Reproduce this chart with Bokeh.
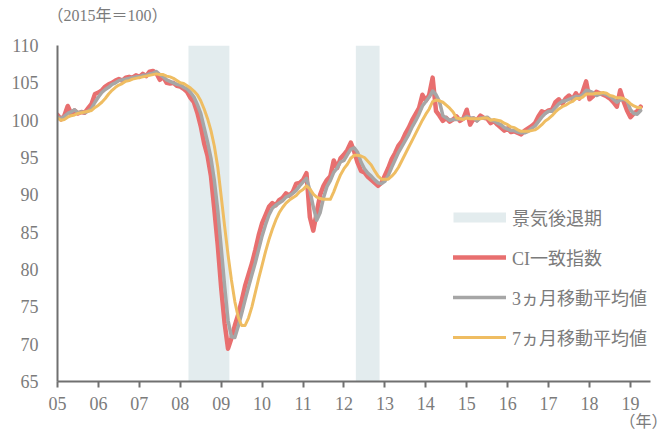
from bokeh.plotting import figure
from bokeh.models import Range1d, FixedTicker, Legend, LegendItem, Title, ColumnDataSource
from bokeh.embed import file_html
from bokeh.resources import INLINE

# ---- data (monthly, Jan 2005 - Apr 2019, 2015 = 100) ----
start_year = 2005
ci = [
    100.7, 100.1, 100.6, 101.9, 100.9, 101.3, 100.9, 101.1, 101.0, 101.6, 102.2, 103.5,
    103.7, 104.0, 104.5, 104.8, 105.0, 105.3, 105.5, 105.3, 105.7, 105.8, 105.7, 106.0,
    105.8, 106.2, 105.9, 106.5, 106.6, 106.3, 105.4, 105.8, 105.0, 104.9, 105.0, 104.6,
    104.5, 104.2, 103.8, 103.0, 102.4, 101.0, 99.2, 96.9, 95.2, 92.5, 88.0, 83.2,
    77.5, 72.8, 69.4, 70.8, 72.5, 74.0, 75.8, 77.8, 79.3, 80.8, 82.6, 84.6,
    86.2, 87.3, 88.4, 88.9, 88.6, 89.3, 89.6, 90.2, 89.9, 90.4, 91.5, 91.6,
    92.0, 92.9, 87.0, 85.2, 87.6, 90.0, 91.2, 92.0, 92.5, 94.6, 93.6, 94.9,
    95.4, 96.0, 97.0, 95.8, 94.3, 93.2, 93.0, 92.4, 92.0, 91.6, 91.2, 91.6,
    92.6, 93.6, 94.8, 95.6, 96.6, 97.2, 98.2, 99.0, 100.0, 100.8, 101.6, 103.4,
    102.6, 103.4, 105.7, 101.2, 100.6, 99.9, 100.3, 99.8, 100.1, 100.5, 99.9, 100.2,
    101.4, 99.4, 100.2, 100.0, 100.6, 100.3, 100.2, 99.6, 99.9, 99.4, 99.0, 98.6,
    98.9, 98.4, 98.5, 98.3, 98.1, 98.6, 98.9, 99.2, 99.6, 100.5, 101.2, 101.0,
    101.3, 101.4, 102.4, 102.8, 102.2, 102.9, 103.3, 102.8, 103.6, 102.9, 103.8, 105.2,
    102.8, 103.2, 103.8, 103.6, 103.4, 103.2, 102.9, 102.4, 101.8, 104.0, 102.5, 101.3,
    100.4, 100.9, 101.2, 101.8,
]
ma3 = [
    100.4, 100.2, 100.5, 100.9, 101.1, 101.4, 101.0, 101.1, 101.0, 101.2, 101.6, 102.4,
    103.1, 103.7, 104.1, 104.4, 104.8, 105.0, 105.3, 105.4, 105.5, 105.6, 105.7, 105.8,
    105.8, 106.0, 106.0, 106.2, 106.3, 106.5, 106.1, 105.8, 105.4, 105.2, 105.0, 104.8,
    104.7, 104.4, 104.2, 103.7, 103.1, 102.1, 100.9, 99.0, 97.1, 94.9, 91.9, 87.9,
    82.9, 77.8, 73.2, 71.0, 70.9, 72.4, 74.1, 75.9, 77.6, 79.3, 80.9, 82.7,
    84.5, 86.0, 87.3, 88.2, 88.6, 88.9, 89.2, 89.7, 89.9, 90.2, 90.6, 91.2,
    91.7, 92.2, 90.6, 88.4, 86.6, 87.6, 89.6, 91.1, 91.9, 93.0, 93.6, 94.4,
    94.6, 95.4, 96.1, 96.3, 95.7, 94.4, 93.5, 92.9, 92.5, 92.0, 91.6, 91.5,
    91.8, 92.6, 93.7, 94.7, 95.7, 96.5, 97.3, 98.1, 99.1, 99.9, 100.8, 101.9,
    102.5, 103.1, 103.9, 103.4, 102.5, 100.6, 100.3, 100.0, 100.1, 100.1, 100.2, 100.2,
    100.5, 100.3, 100.3, 99.9, 100.3, 100.3, 100.4, 100.0, 99.9, 99.6, 99.4, 99.0,
    98.8, 98.6, 98.6, 98.4, 98.3, 98.3, 98.5, 98.9, 99.2, 99.8, 100.4, 100.9,
    101.2, 101.2, 101.7, 102.2, 102.5, 102.6, 102.8, 103.0, 103.2, 103.1, 103.4, 104.0,
    103.9, 103.7, 103.3, 103.5, 103.6, 103.4, 103.2, 102.8, 102.4, 102.7, 102.8, 102.6,
    101.4, 100.9, 100.8, 101.3,
]
ma7 = [
    100.3, 100.0, 100.1, 100.4, 100.6, 100.7, 100.9, 101.0, 101.1, 101.2, 101.3, 101.7,
    102.0, 102.4, 102.9, 103.5, 104.0, 104.4, 104.7, 104.9, 105.2, 105.3, 105.5, 105.6,
    105.7, 105.8, 105.9, 106.0, 106.1, 106.2, 106.1, 106.1, 105.9, 105.8, 105.6, 105.3,
    105.0, 104.9, 104.6, 104.3, 103.9, 103.4, 102.6, 101.5, 100.2, 98.6, 96.5, 93.7,
    89.8, 85.8, 82.0, 78.6, 75.7, 73.6, 72.5, 72.5, 73.5, 75.0, 76.9, 78.8,
    80.6, 82.4, 84.0, 85.4, 86.6, 87.6, 88.3, 88.9, 89.3, 89.6, 89.9, 90.4,
    90.7, 91.2, 90.8, 90.1, 89.7, 89.5, 89.4, 89.4, 89.4, 90.4, 91.6, 92.7,
    93.5, 94.1, 94.9, 95.3, 95.3, 95.2, 95.0, 94.5, 94.0, 93.2, 92.5, 92.1,
    92.1, 92.1, 92.5, 93.0, 93.7, 94.6, 95.5, 96.4, 97.3, 98.2, 99.1, 100.0,
    100.8, 101.5, 102.5, 102.7, 102.6, 102.4, 102.0, 101.6, 101.1, 100.3, 100.2, 100.1,
    100.3, 100.2, 100.2, 100.2, 100.2, 100.3, 100.3, 100.0, 100.1, 100.0, 99.9, 99.6,
    99.4, 99.1, 99.0, 98.7, 98.5, 98.5, 98.5, 98.6, 98.7, 99.0, 99.4, 99.9,
    100.2, 100.6, 101.1, 101.5, 101.8, 102.0, 102.3, 102.5, 102.9, 102.9, 103.1, 103.5,
    103.5, 103.5, 103.6, 103.6, 103.7, 103.6, 103.3, 103.2, 103.0, 103.0, 102.9, 102.6,
    102.2, 101.9, 101.7, 101.7,
]
rec_start = [2008.2, 2012.29]
rec_end = [2009.2, 2012.87]
year_ticks = list(range(2005, 2020))
year_labels = ["05", "06", "07", "08", "09", "10", "11", "12", "13", "14", "15", "16", "17", "18", "19"]
y_ticks = [65, 70, 75, 80, 85, 90, 95, 100, 105, 110]

labels = ["景気後退期", "CI一致指数", "3ヵ月移動平均値", "7ヵ月移動平均値"]
unit_label = "（2015年＝100）"
year_unit = "（年）"

# ---- styles ----
C_REC = "#e3ecee"
C_CI = "#e86f6f"
C_MA3 = "#a6a6a6"
C_MA7 = "#efbd62"
C_AXIS = "#707070"
C_TEXT = "#7b7b7b"
F_NUM = "Liberation Serif"
F_JP = "Liberation Serif, Noto Sans CJK JP"

x = [start_year + i / 12 for i in range(len(ci))]
src = ColumnDataSource(dict(x=x, ci=ci, ma3=ma3, ma7=ma7))

p = figure(frame_width=593, frame_height=336,
           min_border_left=57, min_border_right=17, min_border_top=45, min_border_bottom=55,
           x_range=Range1d(2005, 2019.49), y_range=Range1d(65, 110),
           output_backend="svg", toolbar_location=None)
p.outline_line_color = None
p.grid.visible = False
p.background_fill_color = "white"
p.border_fill_color = "white"

rec = p.quad(left=rec_start, right=rec_end, bottom=p.y_range.start, top=p.y_range.end,
             fill_color=C_REC, line_color=None)
# legend key for the shaded periods (drawn off-frame, only its legend swatch is visible)
rec_key = p.line(x=rec_start, y=[p.y_range.start - 50] * len(rec_start),
                 line_color=C_REC, line_width=10, line_cap="butt")

r_ci = p.line("x", "ci", source=src, line_color=C_CI, line_width=4.5, line_join="round", line_cap="round")
r_3 = p.line("x", "ma3", source=src, line_color=C_MA3, line_width=3.5, line_join="round", line_cap="round")
r_7 = p.line("x", "ma7", source=src, line_color=C_MA7, line_width=3, line_join="round", line_cap="round")

xa = p.xaxis[0]
xa.ticker = FixedTicker(ticks=year_ticks)
xa.major_label_overrides = {t: l for t, l in zip(year_ticks, year_labels)}
xa.axis_line_color = C_AXIS
xa.axis_line_width = 2
xa.major_tick_line_color = C_AXIS
xa.major_tick_line_width = 2
xa.major_tick_out = 6
xa.major_tick_in = 0
xa.minor_tick_line_color = None
xa.major_label_text_font = F_NUM
xa.major_label_text_font_size = "18px"
xa.major_label_text_color = C_TEXT
xa.major_label_standoff = 9

ya = p.yaxis[0]
ya.ticker = FixedTicker(ticks=y_ticks)
ya.axis_line_color = C_AXIS
ya.axis_line_width = 2
ya.major_tick_line_color = None
ya.major_tick_out = 0
ya.major_tick_in = 0
ya.minor_tick_line_color = None
ya.major_label_text_font = F_NUM
ya.major_label_text_font_size = "18px"
ya.major_label_text_color = C_TEXT
ya.major_label_standoff = 19

legend = Legend(items=[
    LegendItem(label=labels[0], renderers=[rec_key]),
    LegendItem(label=labels[1], renderers=[r_ci]),
    LegendItem(label=labels[2], renderers=[r_3]),
    LegendItem(label=labels[3], renderers=[r_7]),
], location=(396, 31), glyph_width=53, glyph_height=20, label_height=20, spacing=14,
    padding=0, margin=0, border_line_color=None, background_fill_alpha=0,
    label_standoff=6, label_text_font=F_JP, label_text_font_size="18px",
    label_text_color=C_TEXT, label_text_baseline="middle")
p.add_layout(legend)

# header (unit) above the plot
p.title.text = unit_label
p.title.align = "left"
p.title.offset = -10
p.title.standoff = 0
p.title.vertical_align = "middle"
p.title.text_font = F_JP
p.title.text_font_size = "16px"
p.title.text_font_style = "normal"
p.title.text_color = C_TEXT
p.add_layout(Title(text=" ", text_font_size="2px", standoff=16.5), "above")

# year unit below the x axis, at the right
p.add_layout(Title(text=year_unit, align="right", offset=-17, vertical_align="top", standoff=0,
                   text_font=F_JP, text_font_size="16px", text_font_style="normal",
                   text_color=C_TEXT), "below")

open("out.html", "w").write(file_html(p, INLINE))
